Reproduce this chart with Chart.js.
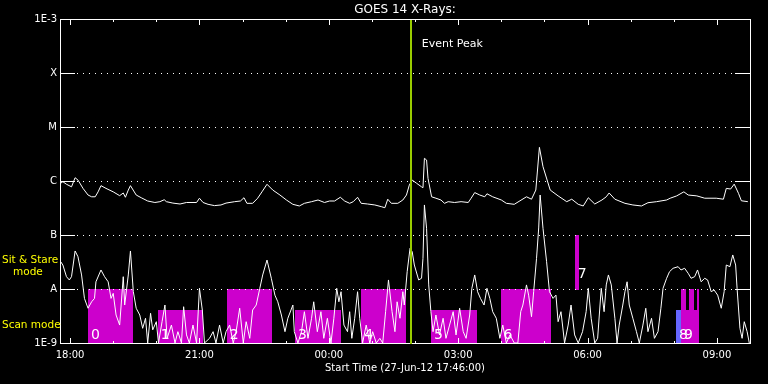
<!DOCTYPE html>
<html>
<head>
<meta charset="utf-8">
<script src="https://cdn.jsdelivr.net/npm/chart.js@4.4.1/dist/chart.umd.min.js"></script>
<style>
  html, body { margin: 0; padding: 0; background: #000; }
</style>
</head>
<body>
<canvas id="goes" width="768" height="384"></canvas>
<script>
// times are minutes after 27-Jun-12 17:46:00
const longTime = [1,4,9,16,21,25,32,39,44,49,53,57,64,74,83,88,91,95,98,106,113,122,132,139,145,148,157,167,176,190,194,199,206,215,224,231,243,251,256,260,268,275,281,288,296,306,315,324,333,340,350,359,368,375,382,390,396,403,408,414,419,428,438,447,452,456,461,470,477,482,486,490,496,503,505,507,510,512,517,523,530,535,540,549,558,568,572,577,584,591,594,602,614,621,632,649,656,662,667,672,682,693,705,712,721,728,735,744,754,760,764,772,786,797,809,818,830,844,849,858,868,874,886,897,913,923,927,933,938,944,948,957];
const longFlux = [9.1e-7,9.7e-7,8.7e-7,7.8e-7,1.15e-6,1.04e-6,7.3e-7,5.5e-7,5.1e-7,5.1e-7,6.3e-7,8.2e-7,7.3e-7,6.3e-7,5.35e-7,6.0e-7,5.0e-7,6.8e-7,8.2e-7,5.5e-7,4.9e-7,4.26e-7,4.0e-7,4.14e-7,4.5e-7,4.14e-7,3.9e-7,3.75e-7,4.0e-7,4.0e-7,4.8e-7,4.0e-7,3.7e-7,3.5e-7,3.6e-7,3.9e-7,4.14e-7,4.26e-7,4.9e-7,3.86e-7,3.86e-7,4.8e-7,6.3e-7,8.7e-7,6.8e-7,5.5e-7,4.45e-7,3.7e-7,3.45e-7,3.86e-7,4.14e-7,4.45e-7,4.0e-7,4.26e-7,4.26e-7,5.0e-7,4.26e-7,3.86e-7,4.14e-7,5.0e-7,3.86e-7,3.75e-7,3.6e-7,3.35e-7,3.2e-7,4.6e-7,3.86e-7,3.86e-7,4.45e-7,5.5e-7,8.4e-7,1.04e-6,9.1e-7,7.8e-7,7.5e-7,2.63e-6,2.45e-6,1.12e-6,5.1e-7,4.8e-7,4.45e-7,3.86e-7,4.14e-7,4.0e-7,4.14e-7,4.0e-7,4.8e-7,6.1e-7,5.5e-7,5.1e-7,5.8e-7,5.1e-7,4.45e-7,3.86e-7,3.7e-7,5.1e-7,4.6e-7,6.8e-7,4.2e-6,1.84e-6,6.8e-7,5.3e-7,4.14e-7,4.6e-7,3.7e-7,3.45e-7,4.9e-7,3.75e-7,4.45e-7,5.1e-7,6.0e-7,4.6e-7,3.86e-7,3.6e-7,3.45e-7,3.96e-7,4.14e-7,4.45e-7,4.8e-7,5.3e-7,6.3e-7,5.5e-7,5.3e-7,4.8e-7,4.8e-7,4.6e-7,7.3e-7,7.1e-7,8.75e-7,5.9e-7,4.3e-7,4.14e-7];

const shortTime = [1,4,9,13,16,21,25,30,34,39,44,48,50,57,62,67,71,74,78,83,88,90,95,98,102,106,111,115,119,122,126,129,134,137,142,146,149,155,160,164,169,172,176,180,185,190,194,198,201,208,213,217,222,227,231,236,241,245,250,255,259,264,268,273,278,282,288,294,299,303,308,313,317,324,326,331,336,340,345,350,353,358,363,367,372,377,381,385,388,391,395,400,403,406,410,414,417,421,426,431,435,440,445,449,453,457,462,466,469,473,477,479,483,487,490,493,499,503,505,507,510,513,516,519,523,528,533,537,542,547,551,556,561,565,570,573,577,581,585,590,594,598,602,607,612,616,621,626,632,637,641,644,649,652,656,659,663,666,668,672,677,681,686,690,693,697,702,707,711,716,721,727,732,735,739,744,748,753,757,760,763,767,772,775,778,783,786,789,792,797,802,806,811,815,818,823,827,832,836,839,844,848,853,860,864,869,874,878,883,887,892,897,901,906,910,915,920,924,927,932,936,940,942,946,949,952,956,959];
const shortFlux = [3.2e-8,2.78e-8,1.69e-8,1.47e-8,1.69e-8,5.06e-8,3.96e-8,1.82e-8,6.7e-9,4.4e-9,5.8e-9,6.7e-9,1.36e-8,2.25e-8,1.69e-8,1.36e-8,6.7e-9,8.3e-9,3.3e-9,2.15e-9,1.69e-8,5.05e-9,1.82e-8,5.06e-8,8.9e-9,4.4e-9,3.3e-9,1.87e-9,2.87e-9,1.0e-9,3.55e-9,1.75e-9,2.48e-9,1.0e-9,2.48e-9,5.05e-9,1.22e-9,2.15e-9,1.0e-9,1.62e-9,1.0e-9,4.7e-9,1.41e-9,1.0e-9,2.15e-9,1.0e-9,1.03e-8,4.08e-9,1.0e-9,1.22e-9,1.62e-9,1.0e-9,2.15e-9,1.0e-9,1.62e-9,2.15e-9,1.0e-9,1.62e-9,4.4e-9,1.0e-9,2.48e-9,1.22e-9,4.08e-9,5.05e-9,1.03e-8,1.82e-8,3.44e-8,1.58e-8,7.7e-9,5.8e-9,3.3e-9,1.62e-9,2.87e-9,5.05e-9,1.62e-9,1.0e-9,1.62e-9,3.8e-9,1.22e-9,2.87e-9,5.8e-9,1.62e-9,3.8e-9,1.22e-9,2.87e-9,1.0e-9,2.87e-9,1.03e-8,5.8e-9,8.9e-9,2.15e-9,1.62e-9,3.8e-9,1.22e-9,2.87e-9,8.9e-9,2.87e-9,1.0e-9,2.15e-9,1.0e-9,1.62e-9,1.0e-9,1.22e-9,1.0e-9,3.8e-9,1.47e-8,3.8e-9,1.62e-9,5.8e-9,2.87e-9,8.9e-9,5.05e-9,2.09e-8,5.67e-8,4.9e-8,2.78e-8,1.47e-8,1.58e-8,3.7e-8,3.6e-7,1.33e-7,1.19e-8,3.8e-9,1.62e-9,3.3e-9,1.41e-9,2.87e-9,1.22e-9,2.15e-9,3.8e-9,1.41e-9,4.4e-9,1.62e-9,1.22e-9,3.3e-9,1.03e-8,1.82e-8,8.9e-9,6.7e-9,5.05e-9,1.03e-8,6.7e-9,3.8e-9,2.87e-9,1.22e-9,2.15e-9,1.0e-9,1.41e-9,1.0e-9,1.0e-9,3.8e-9,5.05e-9,1.19e-8,7.7e-9,3.07e-9,8.9e-9,3.7e-8,1.35e-7,5.5e-7,1.33e-7,3.2e-8,8.9e-9,6.7e-9,7.7e-9,2.48e-9,3.8e-9,1.0e-9,2.15e-9,5.05e-9,1.41e-9,1.0e-9,1.62e-9,3.8e-9,1.03e-8,2.87e-9,1.0e-9,1.22e-9,1.03e-8,3.8e-9,1.19e-8,1.82e-8,1.19e-8,2.87e-9,1.0e-9,2.15e-9,5.05e-9,8.9e-9,1.36e-8,5.05e-9,2.87e-9,1.62e-9,1.0e-9,2.15e-9,4.4e-9,1.62e-9,2.87e-9,1.22e-9,1.62e-9,4.4e-9,1.03e-8,1.58e-8,2.09e-8,2.42e-8,2.59e-8,2.25e-8,2.42e-8,1.95e-8,1.58e-8,1.69e-8,2.25e-8,1.36e-8,1.58e-8,1.47e-8,8.9e-9,9.6e-9,7.7e-9,4.4e-9,8.9e-9,2.78e-8,2.59e-8,4.27e-8,2.78e-8,1.03e-8,1.87e-9,1.22e-9,2.48e-9,1.62e-9,1.0e-9];

// observing mode blocks (scan / sit & stare)
const modeStart = [39, 136, 232, 327, 419, 516, 613, 716, 857, 864, 864, 875, 886];
const modeEnd   = [102, 199, 295, 391, 481, 580, 683, 722, 864, 889, 871, 882, 889];
const modeLow   = [1e-9, 1e-9, 1e-9, 1e-9, 1e-9, 1e-9, 1e-9, 1e-8, 1e-9, 1e-9, 4e-9, 4e-9, 4e-9];
const modeHigh  = [1e-8, 4e-9, 1e-8, 4e-9, 1e-8, 4e-9, 1e-8, 1e-7, 4e-9, 4e-9, 1e-8, 1e-8, 1e-8];
const modeType  = ['scan','scan','scan','scan','scan','scan','scan','sit','other','scan','scan','scan','scan'];
const modeLabel = ['0','1','2','3','4','5','6','7','8','9','','',''];

const yTickValues = [1e-9, 1e-8, 1e-7, 1e-6, 1e-5, 1e-4, 1e-3];
const yTickLabels = ['1E-9', 'A', 'B', 'C', 'M', 'X', '1E-3'];
const xTickTimes  = [14, 194, 374, 554, 734, 914];
const xTickLabels = ['18:00', '21:00', '00:00', '03:00', '06:00', '09:00'];

const eventPeak = 488;
const chartTitle = 'GOES 14 X-Rays:';
const xTitle = 'Start Time (27-Jun-12 17:46:00)';

const FONT = '"DejaVu Sans", sans-serif';
const MODE_COLORS = { scan: '#cc00cc', sit: '#cc00cc', other: '#6666ff' };

const goesFrame = {
    id: 'goesFrame',
    beforeDraw(chart) {
        const ctx = chart.ctx;
        ctx.save();
        ctx.fillStyle = '#000';
        ctx.fillRect(0, 0, chart.width, chart.height);
        ctx.restore();
    },
    beforeDatasetsDraw(chart) {
        const { ctx, chartArea: a, scales: { x, y } } = chart;
        ctx.save();
        // mode blocks
        modeStart.forEach((s, i) => {
            const x0 = Math.round(x.getPixelForValue(s));
            const x1 = Math.round(x.getPixelForValue(modeEnd[i]));
            const y0 = Math.round(y.getPixelForValue(modeHigh[i]));
            const y1 = Math.round(y.getPixelForValue(modeLow[i]));
            ctx.fillStyle = MODE_COLORS[modeType[i]];
            ctx.fillRect(x0, y0, x1 - x0, y1 - y0 + 1);
        });
        ctx.fillStyle = '#fff';
        ctx.font = '14px ' + FONT;
        ctx.textBaseline = 'alphabetic';
        modeStart.forEach((s, i) => {
            if (!modeLabel[i]) return;
            const lx = x.getPixelForValue(s) + 3;
            const ly = y.getPixelForValue(modeLow[i]) - (modeType[i] === 'sit' ? 11 : 4);
            ctx.fillText(modeLabel[i], lx, ly);
        });
        // dotted grid with solid stubs at both ends
        yTickValues.slice(1, -1).forEach(v => {
            const py = Math.round(y.getPixelForValue(v));
            ctx.fillStyle = '#fff';
            ctx.fillRect(a.left, py, 15, 1);
            ctx.fillRect(a.right - 15, py, 15, 1);
            for (let px = a.left + 17; px < a.right - 16; px += 6) ctx.fillRect(px, py, 1, 1);
        });
        ctx.restore();
    },
    afterDatasetsDraw(chart) {
        const { ctx, chartArea: a, scales: { x, y } } = chart;
        ctx.save();
        ctx.strokeStyle = '#fff';
        ctx.lineWidth = 1;
        ctx.strokeRect(a.left + 0.5, a.top + 0.5, a.right - a.left, a.bottom - a.top);
        // hour ticks on top and bottom edges
        ctx.fillStyle = '#fff';
        for (let t = xTickTimes[0]; t <= x.max; t += 60) {
            const px = Math.round(x.getPixelForValue(t));
            const len = (t - xTickTimes[0]) % 180 === 0 ? 6 : 3;
            ctx.fillRect(px, a.top, 1, len);
            ctx.fillRect(px, a.bottom - len + 1, 1, len);
        }
        // event peak
        const ex = x.getPixelForValue(eventPeak);
        ctx.fillStyle = '#99cc00';
        ctx.fillRect(Math.round(ex) - 1, a.top + 1, 2, a.bottom - a.top);
        ctx.fillStyle = '#fff';
        ctx.font = '11px ' + FONT;
        ctx.textAlign = 'left';
        ctx.textBaseline = 'alphabetic';
        ctx.fillText('Event Peak', ex + 11, 47);
        // title
        ctx.font = '12px ' + FONT;
        ctx.textAlign = 'center';
        ctx.textBaseline = 'middle';
        ctx.fillText(chartTitle, (a.left + a.right) / 2, 10);
        // mode captions
        ctx.fillStyle = '#ffff00';
        ctx.font = '10.5px ' + FONT;
        ctx.textAlign = 'left';
        ctx.textBaseline = 'alphabetic';
        ctx.fillText('Sit & Stare', 2, 263);
        ctx.fillText('mode', 13, 275);
        ctx.fillText('Scan mode', 2, 328);
        ctx.restore();
    }
};

const lineSet = (times, flux) => ({
    data: times.map((t, i) => ({ x: t, y: flux[i] })),
    borderColor: '#fff',
    borderWidth: 1,
    pointRadius: 0,
    tension: 0,
    fill: false
});

new Chart(document.getElementById('goes').getContext('2d'), {
    type: 'line',
    data: {
        datasets: [lineSet(longTime, longFlux), lineSet(shortTime, shortFlux)]
    },
    options: {
        responsive: false,
        animation: false,
        layout: { padding: { top: 19, right: 18, left: 0, bottom: 0 } },
        plugins: {
            legend: { display: false },
            tooltip: { enabled: false },
            title: { display: false }
        },
        scales: {
            x: {
                type: 'linear',
                min: 0,
                max: 960,
                grid: { display: false, drawTicks: false },
                border: { display: false },
                afterBuildTicks: s => { s.ticks = xTickTimes.map(v => ({ value: v })); },
                afterFit: s => { s.height = 41; },
                ticks: {
                    color: '#fff',
                    font: { family: FONT, size: 10 },
                    padding: 6,
                    maxRotation: 0,
                    autoSkip: false,
                    callback: v => xTickLabels[xTickTimes.indexOf(v)]
                },
                title: {
                    display: true,
                    text: xTitle,
                    color: '#fff',
                    font: { family: FONT, size: 10 },
                    padding: { top: 0, bottom: 10 }
                }
            },
            y: {
                type: 'logarithmic',
                min: 1e-9,
                max: 1e-3,
                grid: { display: false, drawTicks: false },
                border: { display: false },
                afterBuildTicks: s => { s.ticks = yTickValues.map(v => ({ value: v })); },
                afterFit: s => { s.width = 60; },
                ticks: {
                    color: '#fff',
                    font: { family: FONT, size: 10 },
                    padding: 3,
                    autoSkip: false,
                    callback: v => yTickLabels[yTickValues.indexOf(v)]
                }
            }
        }
    },
    plugins: [goesFrame]
});
</script>
</body>
</html>
